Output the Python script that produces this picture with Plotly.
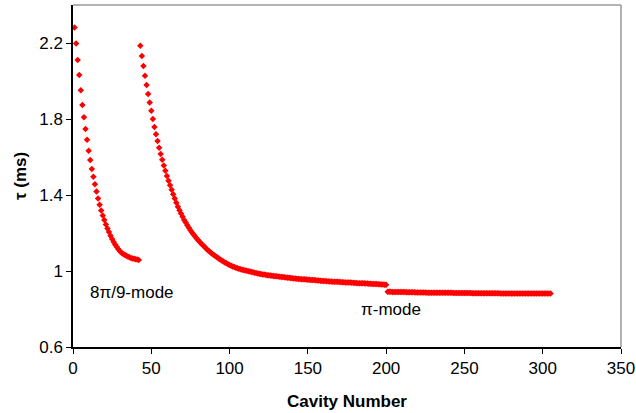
import plotly.graph_objects as go

# 8pi/9-mode, cavities 1..42
mode1_cav = list(range(1, 43))
mode1_tau = [2.281, 2.198, 2.111, 2.032, 1.951, 1.874, 1.809, 1.747, 1.691, 1.633,
             1.584, 1.537, 1.496, 1.456, 1.418, 1.382, 1.349, 1.318, 1.292, 1.268,
             1.245, 1.224, 1.205, 1.186, 1.168, 1.152, 1.138, 1.126, 1.114, 1.104,
             1.096, 1.090, 1.085, 1.080, 1.076, 1.072, 1.069, 1.066, 1.064, 1.062,
             1.060, 1.058]

# pi-mode, cavities 43..200
mode2_cav = list(range(43, 201))
mode2_tau = [2.186, 2.132, 2.079, 2.028, 1.979, 1.932, 1.887, 1.843, 1.800, 1.758,
             1.720, 1.684, 1.649, 1.616, 1.585, 1.555, 1.527, 1.500, 1.475, 1.451,
             1.427, 1.404, 1.381, 1.359, 1.338, 1.320, 1.302, 1.285, 1.269, 1.255,
             1.241, 1.228, 1.215, 1.203, 1.192, 1.181, 1.171, 1.162, 1.153, 1.144,
             1.135, 1.127, 1.119, 1.111, 1.104, 1.097, 1.090, 1.084, 1.078, 1.072,
             1.066, 1.060, 1.055, 1.050, 1.045, 1.041, 1.036, 1.032, 1.028, 1.024,
             1.021, 1.017, 1.014, 1.012, 1.009, 1.007, 1.005, 1.003, 1.001, 0.999,
             0.997, 0.995, 0.993, 0.991, 0.989, 0.987, 0.985, 0.984, 0.982, 0.981,
             0.980, 0.978, 0.977, 0.976, 0.975, 0.974, 0.973, 0.972, 0.971, 0.970,
             0.969, 0.968, 0.967, 0.966, 0.965, 0.964, 0.963, 0.962, 0.961, 0.960,
             0.959, 0.958, 0.958, 0.957, 0.956, 0.956, 0.955, 0.954, 0.954, 0.953,
             0.952, 0.952, 0.951, 0.950, 0.950, 0.949, 0.948, 0.948, 0.947, 0.946,
             0.946, 0.945, 0.945, 0.944, 0.944, 0.943, 0.943, 0.942, 0.942, 0.941,
             0.941, 0.940, 0.940, 0.939, 0.939, 0.938, 0.938, 0.937, 0.937, 0.936,
             0.936, 0.936, 0.935, 0.935, 0.934, 0.934, 0.933, 0.933, 0.932, 0.932,
             0.931, 0.931, 0.930, 0.930, 0.929, 0.929, 0.928, 0.927]

# pi-mode, cavities 201..305
mode3_cav = list(range(201, 306))
mode3_tau = [0.891, 0.891, 0.891, 0.890, 0.890, 0.890, 0.890, 0.889, 0.889, 0.889,
             0.889, 0.889, 0.888, 0.888, 0.888, 0.888, 0.888, 0.888, 0.887, 0.887,
             0.887, 0.887, 0.887, 0.887, 0.887, 0.886, 0.886, 0.886, 0.886, 0.886,
             0.886, 0.886, 0.886, 0.885, 0.885, 0.885, 0.885, 0.885, 0.885, 0.885,
             0.885, 0.885, 0.884, 0.884, 0.884, 0.884, 0.884, 0.884, 0.884, 0.884,
             0.884, 0.884, 0.884, 0.884, 0.883, 0.883, 0.883, 0.883, 0.883, 0.883,
             0.883, 0.883, 0.883, 0.883, 0.883, 0.883, 0.883, 0.883, 0.883, 0.883,
             0.883, 0.883, 0.882, 0.882, 0.882, 0.882, 0.882, 0.882, 0.882, 0.882,
             0.882, 0.882, 0.882, 0.882, 0.882, 0.882, 0.882, 0.882, 0.882, 0.882,
             0.882, 0.882, 0.882, 0.882, 0.882, 0.882, 0.881, 0.881, 0.881, 0.881,
             0.881, 0.881, 0.881, 0.881, 0.881]

x_ticks = [0, 50, 100, 150, 200, 250, 300, 350]
y_ticks = [0.6, 1.0, 1.4, 1.8, 2.2]
y_tick_text = ["0.6", "1", "1.4", "1.8", "2.2"]

FONT = "Liberation Sans, Arial, sans-serif"
RED = "#FF0000"
FS = 17

fig = go.Figure()
for cav, tau in [(mode1_cav, mode1_tau), (mode2_cav, mode2_tau), (mode3_cav, mode3_tau)]:
    fig.add_trace(go.Scatter(
        x=cav, y=tau, mode="markers",
        marker=dict(symbol="diamond", size=5, color=RED, line=dict(width=0)),
        showlegend=False,
    ))

fig.add_annotation(x=37.8, y=0.886, text="8π/9-mode", showarrow=False,
                   font=dict(family=FONT, size=FS, color="black"))
fig.add_annotation(x=203, y=0.795, text="π-mode", showarrow=False,
                   font=dict(family=FONT, size=FS, color="black"))

# axis titles placed explicitly
PW, PH = 548, 342
fig.add_annotation(xref="paper", yref="paper", x=0.5, y=-54 / PH,
                   text="<b>Cavity Number</b>", showarrow=False,
                   xanchor="center", yanchor="middle",
                   font=dict(family=FONT, size=FS, color="black"))
fig.add_annotation(xref="paper", yref="paper", x=-53 / PW, y=0.5,
                   text="<b>τ (ms)</b>", showarrow=False, textangle=-90,
                   xanchor="center", yanchor="middle",
                   font=dict(family=FONT, size=FS, color="black"))

# plot-area frame (top and right, grey)
fig.add_shape(type="line", xref="paper", yref="paper", x0=0, y0=1, x1=1, y1=1,
              line=dict(color="#9a9a9a", width=1.5))
fig.add_shape(type="line", xref="paper", yref="paper", x0=1, y0=0, x1=1, y1=1,
              line=dict(color="#9a9a9a", width=1.5))

fig.update_layout(
    width=636, height=413,
    margin=dict(l=73, r=15, t=5, b=66, autoexpand=False),
    paper_bgcolor="white", plot_bgcolor="white",
    font=dict(family=FONT, size=FS, color="black"),
    xaxis=dict(
        range=[0, 350], tickvals=x_ticks, ticks="outside", ticklen=5,
        tickcolor="black", showline=True, linecolor="black", linewidth=1.5,
        showgrid=False, zeroline=False, automargin=False,
        tickfont=dict(family=FONT, size=FS),
    ),
    yaxis=dict(
        range=[0.6, 2.4], tickvals=y_ticks, ticktext=y_tick_text, ticks="outside",
        ticklen=5, tickcolor="black", showline=True, linecolor="black", linewidth=1.5,
        showgrid=False, zeroline=False, automargin=False,
        tickfont=dict(family=FONT, size=FS),
    ),
)

fig.write_html(
    "out.html",
    config={"displayModeBar": False},
    post_script="document.body.style.margin='0px';document.body.style.padding='0px';",
)
